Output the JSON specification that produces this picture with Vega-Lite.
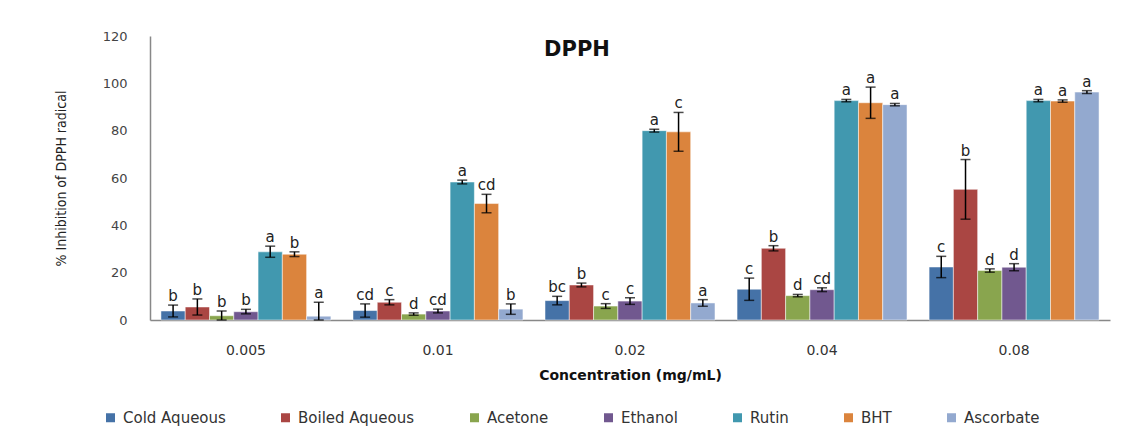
{
  "$schema": "https://vega.github.io/schema/vega-lite/v6.json",
  "width": 960,
  "height": 284,
  "autosize": {"type": "none"},
  "padding": {"left": 150, "top": 36, "right": 17, "bottom": 124},
  "background": "white",
  "title": {"text": "DPPH", "font": "DejaVu Sans", "fontSize": 21, "fontWeight": "bold", "color": "#111111", "anchor": "middle", "dx": -53, "offset": -30},
  "config": {"view": {"stroke": null}},
  "data": {"values": [
    {"c": "0.005", "s": "Cold Aqueous", "v": 3.8, "lo": 1.3, "hi": 6.3, "lab": "b"},
    {"c": "0.005", "s": "Boiled Aqueous", "v": 5.5, "lo": 2.1, "hi": 8.9, "lab": "b"},
    {"c": "0.005", "s": "Acetone", "v": 1.8, "lo": 0.0, "hi": 3.8, "lab": "b"},
    {"c": "0.005", "s": "Ethanol", "v": 3.5, "lo": 2.6, "hi": 4.5, "lab": "b"},
    {"c": "0.005", "s": "Rutin", "v": 28.8, "lo": 26.5, "hi": 31.2, "lab": "a"},
    {"c": "0.005", "s": "BHT", "v": 27.8, "lo": 26.8, "hi": 28.8, "lab": "b"},
    {"c": "0.005", "s": "Ascorbate", "v": 1.6, "lo": 0.0, "hi": 7.5, "lab": "a"},
    {"c": "0.01", "s": "Cold Aqueous", "v": 4.0, "lo": 1.2, "hi": 6.8, "lab": "cd"},
    {"c": "0.01", "s": "Boiled Aqueous", "v": 7.5, "lo": 6.4, "hi": 8.6, "lab": "c"},
    {"c": "0.01", "s": "Acetone", "v": 2.5, "lo": 2.0, "hi": 3.0, "lab": "d"},
    {"c": "0.01", "s": "Ethanol", "v": 3.8, "lo": 3.0, "hi": 4.6, "lab": "cd"},
    {"c": "0.01", "s": "Rutin", "v": 58.3, "lo": 57.5, "hi": 59.1, "lab": "a"},
    {"c": "0.01", "s": "BHT", "v": 49.2, "lo": 45.3, "hi": 53.1, "lab": "cd"},
    {"c": "0.01", "s": "Ascorbate", "v": 4.6, "lo": 2.4, "hi": 6.8, "lab": "b"},
    {"c": "0.02", "s": "Cold Aqueous", "v": 8.2, "lo": 6.4, "hi": 10.0, "lab": "bc"},
    {"c": "0.02", "s": "Boiled Aqueous", "v": 14.8, "lo": 14.0, "hi": 15.6, "lab": "b"},
    {"c": "0.02", "s": "Acetone", "v": 5.9, "lo": 4.9, "hi": 6.9, "lab": "c"},
    {"c": "0.02", "s": "Ethanol", "v": 8.0, "lo": 6.6, "hi": 9.4, "lab": "c"},
    {"c": "0.02", "s": "Rutin", "v": 80.0, "lo": 79.4, "hi": 80.6, "lab": "a"},
    {"c": "0.02", "s": "BHT", "v": 79.5, "lo": 71.3, "hi": 87.7, "lab": "c"},
    {"c": "0.02", "s": "Ascorbate", "v": 7.2, "lo": 5.8, "hi": 8.6, "lab": "a"},
    {"c": "0.04", "s": "Cold Aqueous", "v": 13.0, "lo": 8.3, "hi": 17.7, "lab": "c"},
    {"c": "0.04", "s": "Boiled Aqueous", "v": 30.3, "lo": 29.2, "hi": 31.4, "lab": "b"},
    {"c": "0.04", "s": "Acetone", "v": 10.3, "lo": 9.8, "hi": 10.8, "lab": "d"},
    {"c": "0.04", "s": "Ethanol", "v": 12.8, "lo": 12.0, "hi": 13.6, "lab": "cd"},
    {"c": "0.04", "s": "Rutin", "v": 92.7, "lo": 92.2, "hi": 93.2, "lab": "a"},
    {"c": "0.04", "s": "BHT", "v": 91.8, "lo": 85.2, "hi": 98.4, "lab": "a"},
    {"c": "0.04", "s": "Ascorbate", "v": 91.0, "lo": 90.5, "hi": 91.5, "lab": "a"},
    {"c": "0.08", "s": "Cold Aqueous", "v": 22.4, "lo": 17.9, "hi": 26.9, "lab": "c"},
    {"c": "0.08", "s": "Boiled Aqueous", "v": 55.2, "lo": 42.6, "hi": 67.8, "lab": "b"},
    {"c": "0.08", "s": "Acetone", "v": 20.9, "lo": 20.2, "hi": 21.6, "lab": "d"},
    {"c": "0.08", "s": "Ethanol", "v": 22.3, "lo": 20.8, "hi": 23.8, "lab": "d"},
    {"c": "0.08", "s": "Rutin", "v": 92.7, "lo": 92.2, "hi": 93.2, "lab": "a"},
    {"c": "0.08", "s": "BHT", "v": 92.5, "lo": 92.0, "hi": 93.0, "lab": "a"},
    {"c": "0.08", "s": "Ascorbate", "v": 96.3, "lo": 95.7, "hi": 96.9, "lab": "a"}
  ]},
  "encoding": {
    "x": {
      "field": "c", "type": "nominal",
      "sort": ["0.005", "0.01", "0.02", "0.04", "0.08"],
      "scale": {"paddingInner": 0.115, "paddingOuter": 0.057},
      "axis": {
        "title": "Concentration (mg/mL)", "labelAngle": 0,
        "domainColor": "#888888", "domainWidth": 1.5, "ticks": false,
        "labelFont": "DejaVu Sans", "labelFontSize": 14, "labelColor": "#333333", "labelPadding": 23,
        "titleFont": "DejaVu Sans", "titleFontSize": 14, "titleFontWeight": "bold", "titleColor": "#111111", "titlePadding": 11
      }
    },
    "xOffset": {
      "field": "s", "type": "nominal",
      "sort": ["Cold Aqueous", "Boiled Aqueous", "Acetone", "Ethanol", "Rutin", "BHT", "Ascorbate"]
    }
  },
  "layer": [
    {
      "mark": {"type": "bar", "stroke": "white", "strokeWidth": 0.5},
      "encoding": {
        "y": {
          "field": "v", "type": "quantitative", "title": "% Inhibition of DPPH radical",
          "scale": {"domain": [0, 120]},
          "axis": {
            "values": [0, 20, 40, 60, 80, 100, 120], "grid": false, "ticks": false,
            "domainColor": "#888888", "domainWidth": 1.5,
            "labelFont": "DejaVu Sans", "labelFontSize": 13, "labelColor": "#444444", "labelPadding": 23,
            "titleFont": "DejaVu Sans Condensed, Liberation Sans, sans-serif", "titleFontSize": 14, "titleFontWeight": "normal", "titleColor": "#222222", "titlePadding": 34
          }
        },
        "color": {
          "field": "s", "type": "nominal",
          "scale": {
            "domain": ["Cold Aqueous", "Boiled Aqueous", "Acetone", "Ethanol", "Rutin", "BHT", "Ascorbate"],
            "range": ["#4572A7", "#AA4643", "#89A54E", "#71588F", "#4198AF", "#DB843D", "#93A9CF"]
          },
          "legend": {
            "orient": "none", "legendX": -47, "legendY": 374, "direction": "horizontal", "columns": 7,
            "title": null, "symbolType": "square", "symbolSize": 81, "symbolStrokeWidth": 0,
            "labelFont": "DejaVu Sans", "labelFontSize": 15, "labelColor": "#333333",
            "columnPadding": 52, "labelOffset": 5
          }
        }
      }
    },
    {
      "mark": {"type": "rule", "color": "black", "strokeWidth": 1.5},
      "encoding": {
        "y": {"field": "lo", "type": "quantitative", "title": "% Inhibition of DPPH radical"},
        "y2": {"field": "hi"}
      }
    },
    {
      "mark": {"type": "tick", "color": "black", "thickness": 1.5, "size": 10},
      "encoding": {"y": {"field": "lo", "type": "quantitative", "title": "% Inhibition of DPPH radical"}}
    },
    {
      "mark": {"type": "tick", "color": "black", "thickness": 1.5, "size": 10},
      "encoding": {"y": {"field": "hi", "type": "quantitative", "title": "% Inhibition of DPPH radical"}}
    },
    {
      "mark": {"type": "text", "baseline": "alphabetic", "dy": -4, "font": "DejaVu Sans", "fontSize": 15, "color": "#222222"},
      "encoding": {
        "y": {"field": "hi", "type": "quantitative", "title": "% Inhibition of DPPH radical"},
        "text": {"field": "lab"}
      }
    }
  ]
}
